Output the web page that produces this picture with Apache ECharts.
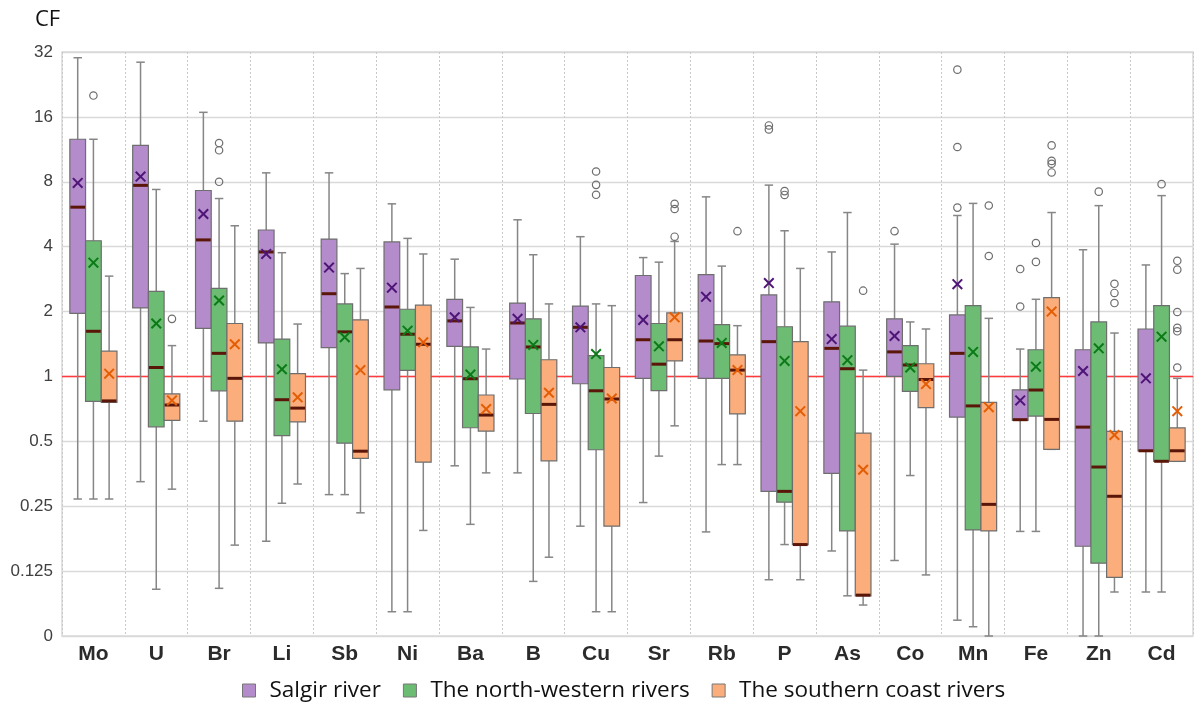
<!DOCTYPE html>
<html lang="en">
<head>
    <meta charset="UTF-8">
    <script type="text/javascript" src="https://cdn.jsdelivr.net/npm/echarts@6/dist/echarts.min.js"></script>
    <style>
        body { margin: 0; background: #fff; }
        #main { width: 1203px; height: 708px; }
    </style>
</head>
<body>
    <div id="main"></div>

    <script type="text/javascript">
        // categories (elements) and group names
        var categories = ['Mo', 'U', 'Br', 'Li', 'Sb', 'Ni', 'Ba', 'B', 'Cu', 'Sr', 'Rb', 'P', 'As', 'Co', 'Mn', 'Fe', 'Zn', 'Cd'];
        var seriesNames = ['Salgir river', 'The north-western rivers', 'The southern coast rivers'];
        var yTicks = [0.0625, 0.125, 0.25, 0.5, 1, 2, 4, 8, 16, 32];
        var refValue = 1;

        // [whisker low, q1, median, q3, whisker high]
        var salgirBoxes = [
            [0.27, 1.96, 6.1, 12.6, 30.1], [0.325, 2.08, 7.7, 11.8, 28.7], [0.62, 1.67, 4.3, 7.29, 16.8],
            [0.172, 1.43, 3.78, 4.78, 8.8], [0.283, 1.36, 2.42, 4.34, 8.8], [0.081, 0.867, 2.1, 4.21, 6.32],
            [0.385, 1.38, 1.81, 2.28, 3.5], [0.357, 0.973, 1.77, 2.19, 5.33], [0.202, 0.925, 1.69, 2.12, 4.45],
            [0.26, 0.98, 1.48, 2.94, 3.56], [0.19, 0.98, 1.46, 2.97, 6.81], [0.114, 0.293, 1.45, 2.39, 7.72],
            [0.155, 0.355, 1.35, 2.22, 3.78], [0.14, 1.0, 1.3, 1.85, 4.11], [0.074, 0.648, 1.28, 1.93, 5.58],
            [0.191, 0.625, 0.63, 0.867, 1.34], [0.0625, 0.163, 0.582, 1.33, 3.87], [0.1, 0.452, 0.452, 1.66, 3.29]
        ];
        var salgirMeans = [7.9, 8.46, 5.67, 3.7, 3.2, 2.58, 1.88, 1.85, 1.69, 1.83, 2.34, 2.71, 1.49, 1.54, 2.68, 0.774, 1.06, 0.98];
        var salgirOutliers = [[], [], [], [], [], [], [], [], [], [], [], [14.0, 14.6], [], [4.72], [6.07, 11.6, 26.5], [2.11, 3.15], [], []];

        var northBoxes = [
            [0.27, 0.766, 1.62, 4.26, 12.6], [0.103, 0.584, 1.1, 2.48, 7.37], [0.104, 0.858, 1.28, 2.56, 6.69],
            [0.258, 0.532, 0.78, 1.49, 3.75], [0.283, 0.49, 1.61, 2.17, 3.0], [0.081, 1.066, 1.57, 2.05, 4.37],
            [0.206, 0.578, 0.976, 1.37, 2.09], [0.112, 0.673, 1.37, 1.85, 3.67], [0.081, 0.457, 0.858, 1.25, 2.17],
            [0.427, 0.86, 1.14, 1.76, 3.39], [0.39, 0.98, 1.42, 1.74, 3.25], [0.166, 0.261, 0.293, 1.7, 4.74],
            [0.096, 0.192, 1.086, 1.71, 5.76], [0.347, 0.852, 1.13, 1.39, 1.79], [0.069, 0.194, 0.73, 2.13, 6.35],
            [0.191, 0.655, 0.865, 1.33, 2.28], [0.0625, 0.136, 0.38, 1.79, 6.2], [0.1, 0.404, 0.404, 2.13, 6.9]
        ];
        var northMeans = [3.37, 1.76, 2.25, 1.08, 1.52, 1.63, 1.02, 1.4, 1.27, 1.38, 1.43, 1.18, 1.19, 1.1, 1.3, 1.11, 1.35, 1.53];
        var northOutliers = [[20.1], [], [8.0, 11.2, 12.1], [], [], [], [], [], [6.96, 7.74, 8.93], [], [], [6.95, 7.24], [], [], [], [3.4, 4.16], [7.2], [7.8]];

        var southBoxes = [
            [0.27, 0.758, 0.77, 1.31, 2.92], [0.3, 0.625, 0.737, 0.83, 1.39], [0.165, 0.62, 0.98, 1.76, 5.0],
            [0.317, 0.615, 0.713, 1.03, 1.75], [0.233, 0.417, 0.45, 1.83, 3.17], [0.193, 0.4, 1.41, 2.14, 3.7],
            [0.357, 0.558, 0.662, 0.82, 1.34], [0.145, 0.406, 0.742, 1.195, 2.17], [0.081, 0.202, 0.786, 1.1, 2.13],
            [0.59, 1.18, 1.48, 1.97, 4.23], [0.39, 0.67, 1.07, 1.26, 1.72], [0.114, 0.166, 0.166, 1.45, 3.17],
            [0.087, 0.096, 0.0967, 0.546, 1.07], [0.12, 0.716, 0.968, 1.145, 1.66], [0.0625, 0.192, 0.255, 0.758, 1.86],
            [0.459, 0.459, 0.632, 2.32, 5.76], [0.1, 0.117, 0.278, 0.556, 1.59], [0.404, 0.404, 0.452, 0.577, 0.98]
        ];
        var southMeans = [1.03, 0.774, 1.41, 0.8, 1.07, 1.44, 0.706, 0.84, 0.79, 1.88, 1.07, 0.69, 0.369, 0.922, 0.72, 2.0, 0.535, 0.69];
        var southOutliers = [[], [1.85], [], [], [], [], [], [], [], [4.45, 5.98, 6.32], [4.72], [], [2.5], [], [3.62, 6.21], [8.84, 9.7, 10.0, 11.8], [2.19, 2.44, 2.69], [1.1, 1.62, 1.68, 1.99, 3.13, 3.44]];

        var fills = ['#b48ccc', '#6cbc74', '#fbae7b'];
        var meanColors = ['#4e1577', '#0b7a17', '#e35d05'];

        function boxSeries(gi, boxes, means) {
            var data = boxes.map(function (b, i) {
                return [i, b[0], b[1], b[2], b[3], b[4], means[i]];
            });
            return {
                name: seriesNames[gi],
                type: 'custom',
                z: 3,
                itemStyle: { color: fills[gi], borderColor: '#707070', borderWidth: 1 },
                encode: { x: 0, y: [1, 2, 3, 4, 5, 6] },
                data: data,
                renderItem: function (params, api) {
                    var i = api.value(0);
                    var band = params.coordSys.width / categories.length;
                    var w = band * 0.25;
                    var cx = api.coord([i, 1])[0] + (gi - 1) * w;
                    var y = [1, 2, 3, 4, 5, 6].map(function (d) {
                        return api.coord([i, api.value(d)])[1];
                    });
                    var x0 = cx - w / 2;
                    var cap = w * 0.27;
                    var wl = { stroke: '#868686', lineWidth: 1.5 };
                    var mk = { stroke: meanColors[gi], lineWidth: 2 };
                    var m = 4.8;
                    return {
                        type: 'group',
                        children: [
                            { type: 'line', shape: { x1: cx, y1: y[0], x2: cx, y2: y[1] }, style: wl },
                            { type: 'line', shape: { x1: cx, y1: y[3], x2: cx, y2: y[4] }, style: wl },
                            { type: 'line', shape: { x1: cx - cap, y1: y[0], x2: cx + cap, y2: y[0] }, style: wl },
                            { type: 'line', shape: { x1: cx - cap, y1: y[4], x2: cx + cap, y2: y[4] }, style: wl },
                            { type: 'rect', shape: { x: x0, y: y[3], width: w, height: y[1] - y[3] }, style: { fill: fills[gi], stroke: '#6e6e6e', lineWidth: 1.2 } },
                            { type: 'line', shape: { x1: x0 + 0.5, y1: y[2], x2: x0 + w - 0.5, y2: y[2] }, style: { stroke: '#5a1608', lineWidth: 3 } },
                            { type: 'line', shape: { x1: cx - m, y1: y[5] - m, x2: cx + m, y2: y[5] + m }, style: mk },
                            { type: 'line', shape: { x1: cx - m, y1: y[5] + m, x2: cx + m, y2: y[5] - m }, style: mk }
                        ]
                    };
                }
            };
        }

        function outlierSeries(gi, outliers) {
            var data = [];
            outliers.forEach(function (list, i) {
                list.forEach(function (v) { data.push([i, v]); });
            });
            return {
                name: seriesNames[gi] + ' outliers',
                type: 'custom',
                z: 4,
                encode: { x: 0, y: 1 },
                data: data,
                renderItem: function (params, api) {
                    var w = params.coordSys.width / categories.length * 0.25;
                    var p = api.coord([api.value(0), api.value(1)]);
                    return {
                        type: 'circle',
                        shape: { cx: p[0] + (gi - 1) * w, cy: p[1], r: 3.7 },
                        style: { fill: 'transparent', stroke: '#6e6e6e', lineWidth: 1.2 }
                    };
                }
            };
        }

        // red reference line at CF = 1
        var refSeries = {
            name: 'ref',
            type: 'custom',
            z: 2,
            encode: { x: 0, y: 1 },
            data: [[0, refValue]],
            renderItem: function (params, api) {
                var cs = params.coordSys;
                var yy = api.coord([0, api.value(1)])[1];
                return {
                    type: 'line',
                    shape: { x1: cs.x, y1: yy, x2: cs.x + cs.width, y2: yy },
                    style: { stroke: '#ff3b3b', lineWidth: 1.5 }
                };
            }
        };

        var myChart = echarts.init(document.getElementById('main'));
        var option = {
            animation: false,
            title: {
                text: 'CF',
                left: 30,
                top: 4,
                textStyle: { fontFamily: 'Open Sans', fontSize: 22, fontWeight: 'normal', color: '#111' }
            },
            legend: {
                left: 237,
                top: 674,
                itemWidth: 13,
                itemHeight: 13,
                itemGap: 22,
                data: seriesNames.map(function (n, gi) {
                    return { name: n, icon: 'rect', itemStyle: { color: fills[gi], borderColor: '#777', borderWidth: 1 } };
                }),
                textStyle: { fontFamily: 'Open Sans', fontSize: 22.5, color: '#111', padding: [0, 0, 0, 9] }
            },
            grid: {
                left: 62,
                right: 10,
                top: 52,
                bottom: 72,
                show: true,
                borderColor: '#d9d9d9',
                borderWidth: 1.5
            },
            xAxis: {
                type: 'category',
                data: categories,
                axisLine: { show: false },
                axisTick: { show: false },
                splitLine: { show: true, lineStyle: { color: '#c9c9c9', type: [2, 2], width: 1 } },
                axisLabel: { fontFamily: 'Liberation Sans', fontSize: 21, fontWeight: 'bold', color: '#2b2b2b', margin: 8 }
            },
            yAxis: {
                type: 'log',
                logBase: 2,
                min: yTicks[0],
                max: yTicks[yTicks.length - 1],
                axisLine: { show: false },
                axisTick: { show: false },
                splitLine: { lineStyle: { color: '#d9d9d9', width: 1.3 } },
                axisLabel: {
                    fontFamily: 'Liberation Sans',
                    fontSize: 17,
                    color: '#404040',
                    margin: 9,
                    formatter: function (v) {
                        var r = +(+v).toPrecision(6);
                        return r <= yTicks[0] ? '0' : String(r);
                    }
                }
            },
            series: [
                refSeries,
                boxSeries(0, salgirBoxes, salgirMeans),
                boxSeries(1, northBoxes, northMeans),
                boxSeries(2, southBoxes, southMeans),
                outlierSeries(0, salgirOutliers),
                outlierSeries(1, northOutliers),
                outlierSeries(2, southOutliers)
            ]
        };
        myChart.setOption(option);
    </script>
</body>
</html>
